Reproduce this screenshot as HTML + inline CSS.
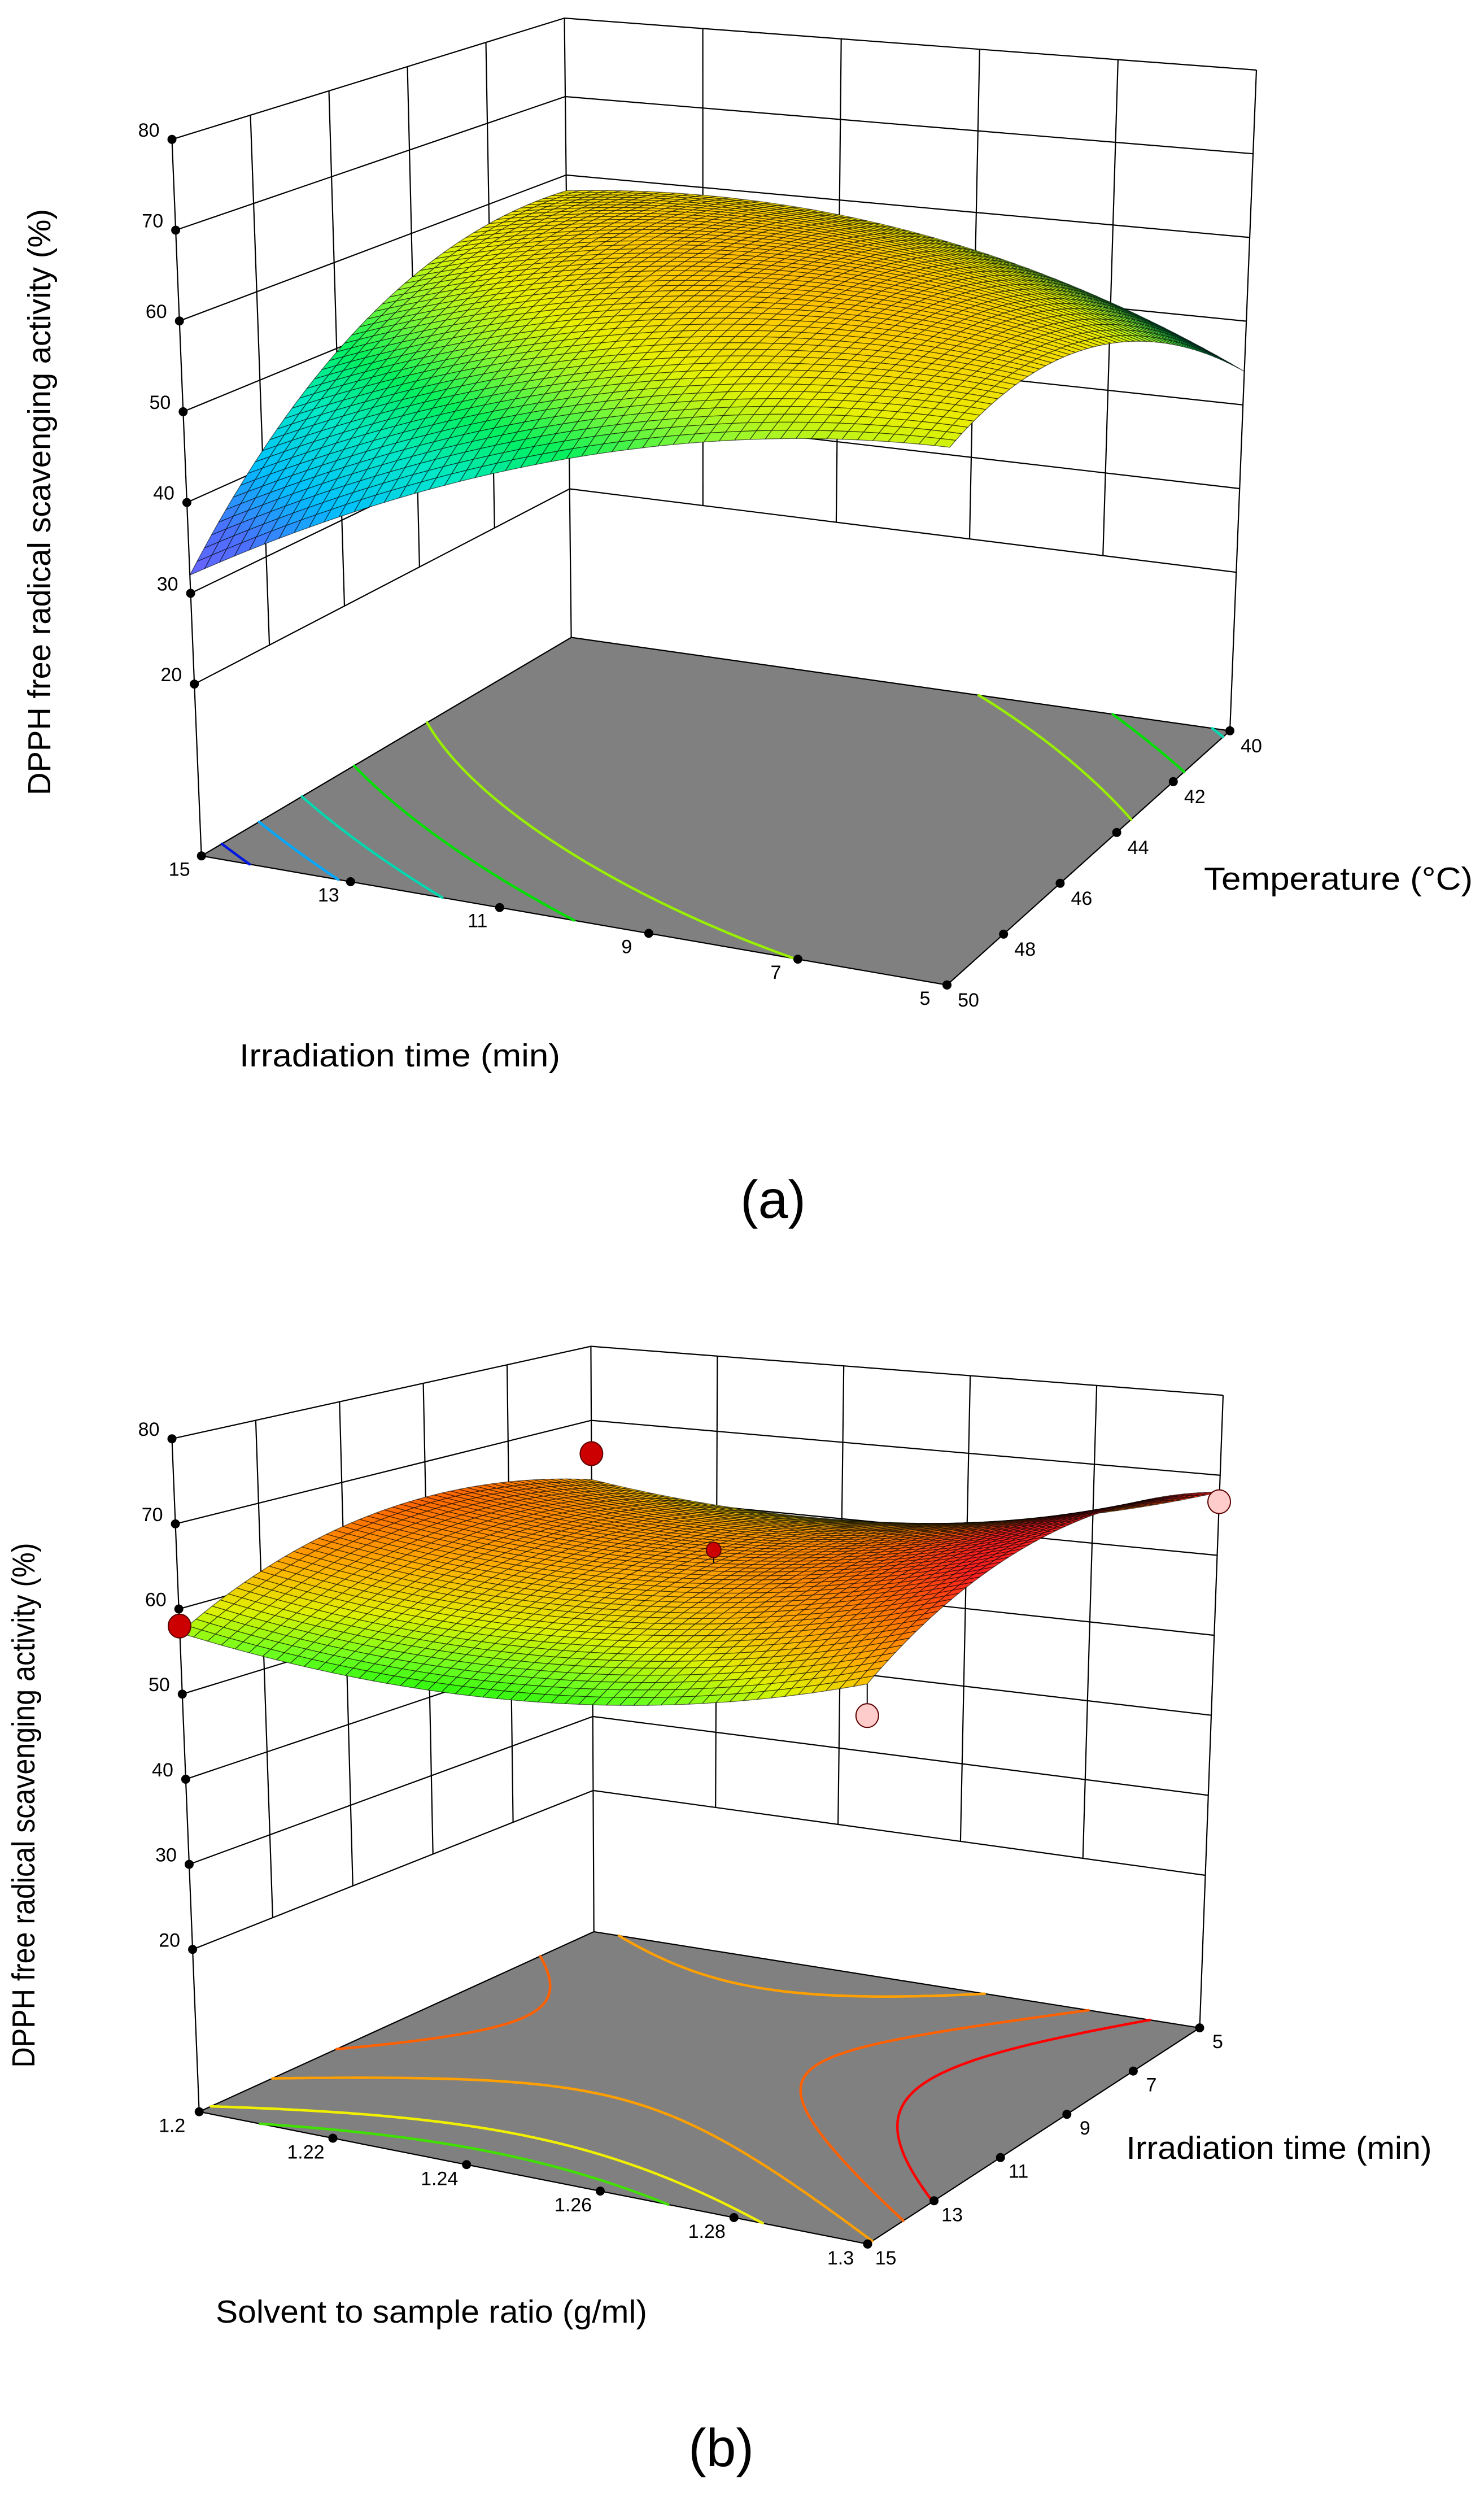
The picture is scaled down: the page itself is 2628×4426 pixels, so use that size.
<!DOCTYPE html>
<html><head><meta charset="utf-8"><title>DPPH response surfaces</title>
<style>html,body{margin:0;padding:0;background:#fff}svg{display:block}text{font-family:"Liberation Sans",sans-serif;fill:#000}</style>
</head><body>
<svg id="chart" xmlns="http://www.w3.org/2000/svg" width="2628" height="4426" viewBox="0 0 2628 4426">
<rect x="0" y="0" width="2628" height="4426" fill="#fff"/>
<g id="plotA"></g>
<g id="plotB"></g>
<text x="70" y="889" font-size="57" text-anchor="middle" dominant-baseline="central" transform="rotate(-90 70 889)" textLength="1038" lengthAdjust="spacingAndGlyphs">DPPH free radical scavenging activity (%)</text>
<text x="708" y="1888" font-size="57" text-anchor="middle" textLength="568" lengthAdjust="spacingAndGlyphs">Irradiation time (min)</text>
<text x="2370" y="1575" font-size="57" text-anchor="middle" textLength="476" lengthAdjust="spacingAndGlyphs">Temperature (°C)</text>
<text x="1369" y="2156" font-size="95" text-anchor="middle">(a)</text>
<text x="42" y="3196" font-size="57" text-anchor="middle" dominant-baseline="central" transform="rotate(-90 42 3196)" textLength="929" lengthAdjust="spacingAndGlyphs">DPPH free radical scavenging activity (%)</text>
<text x="764" y="4112" font-size="57" text-anchor="middle" textLength="764" lengthAdjust="spacingAndGlyphs">Solvent to sample ratio (g/ml)</text>
<text x="2265" y="3822" font-size="57" text-anchor="middle" textLength="541" lengthAdjust="spacingAndGlyphs">Irradiation time (min)</text>
<text x="1277" y="4366" font-size="95" text-anchor="middle">(b)</text>
</svg>
<script>
// ---------- data ----------
var zTicks = [20, 30, 40, 50, 60, 70, 80];
// plot (a): irradiation time (min) x temperature (C)
var aTimeTicks = [15, 13, 11, 9, 7, 5];
var aTempTicks = [40, 42, 44, 46, 48, 50];
// quadratic model coefficients [b0, b1, b2, b11, b22, b12] (coded)
var aCoef = [61, -2.5, -3.5, -6, -7.5, -9.5];
var aContourLevels = [35, 40, 45, 50, 55];
// plot (b): solvent ratio x irradiation time
var bRatioTicks = [1.2, 1.22, 1.24, 1.26, 1.28, 1.3];
var bTimeTicks = [5, 7, 9, 11, 13, 15];
var bCoef = [63, 2.45, -2.9, 4.7, -5.65, -0.5];
var bContourLevels = [56, 58, 61.5, 64, 66];
var bPointRatio = [1.2, 1.2, 1.25, 1.3, 1.3];
var bPointTime = [15, 5, 10, 15, 5];
var bPointValue = [58, 65.5, 64.6, 57.7, 66.7];

// ---------- styling / geometry ----------
var NS = "http://www.w3.org/2000/svg";
var aStops = [[30,'#7a5cff'],[36,'#4a70ff'],[41,'#00c0ff'],[46,'#00e8c8'],[50,'#00f060'],[54,'#90f830'],[57,'#e8f000'],[60.5,'#ffc800'],[63,'#ffa400'],[70,'#ff5000']];
var aContourColors = ['#0018e0','#00a8ff','#00d8b0','#00e000','#98f000'];
var bStops = [[53,'#00f000'],[56,'#70ff20'],[59,'#e0f000'],[62,'#ffb000'],[65,'#ff7000'],[68,'#ff2020']];
var bContourColors = ['#40e000','#f0f000','#ffa000','#ff6000','#ff0000'];

var geoA = {floor:{B:[1011.6,1128.5],R:[2178,1293.8],L:[356.7,1515.3],F:[1677,1743.8]},
            top:{B:[999.5,32.1],R:[2225,124],L:[304.5,246.8],F:[1684,376]}, z0:1.07};
var geoB = {floor:{B:[1051.7,3419.9],R:[2124.5,3590.1],L:[352.7,3738.6],F:[1536.5,3972.8]},
            top:{B:[1046.4,2383.5],R:[2166,2470.2],L:[304.5,2547.2],F:[1535.5,2669.8]}, z0:0.93};

function hex(c){return [parseInt(c.substr(1,2),16),parseInt(c.substr(3,2),16),parseInt(c.substr(5,2),16)];}
function cmap(stops,z){
  if(z<=stops[0][0]) return stops[0][1];
  for(var i=1;i<stops.length;i++){
    if(z<=stops[i][0]){
      var t=(z-stops[i-1][0])/(stops[i][0]-stops[i-1][0]);
      var a=hex(stops[i-1][1]),b=hex(stops[i][1]);
      return 'rgb('+Math.round(a[0]+t*(b[0]-a[0]))+','+Math.round(a[1]+t*(b[1]-a[1]))+','+Math.round(a[2]+t*(b[2]-a[2]))+')';
    }
  }
  return stops[stops.length-1][1];
}
function bil(c,s,q){
  return [c.B[0]*(1-s)*(1-q)+c.R[0]*s*(1-q)+c.L[0]*(1-s)*q+c.F[0]*s*q,
          c.B[1]*(1-s)*(1-q)+c.R[1]*s*(1-q)+c.L[1]*(1-s)*q+c.F[1]*s*q];
}
function proj(g,s,q,w){
  var f=bil(g.floor,s,q),t=bil(g.top,s,q);
  return [f[0]+w*(t[0]-f[0]), f[1]+w*(t[1]-f[1])];
}
function wOf(g,z){return (z-g.z0)/(80-g.z0);}
function model(c,x1,x2){return c[0]+c[1]*x1+c[2]*x2+c[3]*x1*x1+c[4]*x2*x2+c[5]*x1*x2;}
function el(tag,attrs,parent){
  var e=document.createElementNS(NS,tag);
  for(var k in attrs) e.setAttribute(k,attrs[k]);
  parent.appendChild(e); return e;
}
function pts(arr){return arr.map(function(p){return p[0].toFixed(1)+','+p[1].toFixed(1);}).join(' ');}

function drawPlot(root,g,cfg){
  var walls=el('g',{stroke:'#000','stroke-width':2.2,fill:'none'},root);
  
  
  zTicks.forEach(function(z){
    var w=wOf(g,z);
    var pl=el('polyline',{points:pts([proj(g,0,1,w),proj(g,0,0,w),proj(g,1,0,w)])},walls);
    
    
  });
  var w20=wOf(g,zTicks[0]), w80=wOf(g,zTicks[zTicks.length-1]);
  cfg.qTicks.forEach(function(v){
    var q=cfg.qOf(v); if(q<=0.001||q>=0.999) return;
    var ln=el('polyline',{points:pts([proj(g,0,q,w20),proj(g,0,q,w80)])},walls);
    
    
  });
  cfg.sTicks.forEach(function(v){
    var s=cfg.sOf(v); if(s<=0.001||s>=0.999) return;
    var ln=el('polyline',{points:pts([proj(g,s,0,w20),proj(g,s,0,w80)])},walls);
    
    
  });
  [[0,1],[0,0],[1,0]].forEach(function(c){
    var ln=el('polyline',{points:pts([proj(g,c[0],c[1],0),proj(g,c[0],c[1],1)])},walls);
    
    
  });
  var fl=el('polygon',{points:pts([g.floor.B,g.floor.R,g.floor.F,g.floor.L]),fill:'#808080',stroke:'#000','stroke-width':2.2},root);
  
  
  var M=110;
  var cg=el('g',{fill:'none','stroke-width':4.5,'stroke-linecap':'round'},root);
  
  
  cfg.levels.forEach(function(L,li){
    var d='';
    for(var i=0;i<M;i++)for(var j=0;j<M;j++){
      var s0=i/M,s1=(i+1)/M,q0=j/M,q1=(j+1)/M;
      var c=[[s0,q0],[s1,q0],[s1,q1],[s0,q1]];
      var v=c.map(function(p){return cfg.f(p[0],p[1]);});
      var hits=[];
      for(var e=0;e<4;e++){
        var a=v[e],b=v[(e+1)%4];
        if((a<L)!==(b<L)){
          var t=(L-a)/(b-a),pa=c[e],pb=c[(e+1)%4];
          hits.push(proj(g,pa[0]+t*(pb[0]-pa[0]),pa[1]+t*(pb[1]-pa[1]),0));
        }
      }
      for(var h=0;h+1<hits.length;h+=2)
        d+='M'+hits[h][0].toFixed(1)+' '+hits[h][1].toFixed(1)+'L'+hits[h+1][0].toFixed(1)+' '+hits[h+1][1].toFixed(1);
    }
    var p=el('path',{d:d,stroke:cfg.ccolors[li]},cg);
    
    
  });
  var N=50, cells=[];
  for(var i=0;i<N;i++)for(var j=0;j<N;j++){
    var s0=i/N,s1=(i+1)/N,q0=j/N,q1=(j+1)/N;
    var zs=[cfg.f(s0,q0),cfg.f(s1,q0),cfg.f(s1,q1),cfg.f(s0,q1)];
    var poly=[proj(g,s0,q0,wOf(g,zs[0])),proj(g,s1,q0,wOf(g,zs[1])),proj(g,s1,q1,wOf(g,zs[2])),proj(g,s0,q1,wOf(g,zs[3]))];
    cells.push({d:s0+s1+q0+q1,poly:poly,z:(zs[0]+zs[1]+zs[2]+zs[3])/4});
  }
  cells.sort(function(a,b){return a.d-b.d;});
  var sg=el('g',{stroke:'rgba(0,0,0,0.6)','stroke-width':1.3,'stroke-linejoin':'round'},root);
  
  
  cells.forEach(function(c){
    var p=el('polygon',{points:pts(c.poly),fill:cmap(cfg.stops,c.z)},sg);
    
    
  });
  if(cfg.points){
    var pg=el('g',{},root);
    
    
    cfg.points.forEach(function(pt){
      var s=cfg.sOf(pt[0]),q=cfg.qOf(pt[1]);
      var zs=cfg.f(s,q);
      var a=proj(g,s,q,wOf(g,zs)),b=proj(g,s,q,wOf(g,pt[2]));
      var st=el('line',{x1:a[0],y1:a[1],x2:b[0],y2:b[1],stroke:'#000','stroke-width':2},pg);
      
      
      var above=pt[2]>=zs;
      var r=(Math.abs(pt[0]-1.25)<0.01)?13:20;
      var ci=el('ellipse',{cx:b[0],cy:b[1],rx:r,ry:r*1.05,fill:above?'#cc0000':'#ffcccc',stroke:'#5a0000','stroke-width':2},pg);
      
      
    });
  }
  var tg=el('g',{},root);
  
  
  function dot(p){
    var c=el('circle',{cx:p[0],cy:p[1],r:8,fill:'#000'},tg);
    
    
  }
  function lab(x,y,txt,anchor){
    var t=el('text',{x:x,y:y,'font-size':34,'text-anchor':anchor||'middle'},tg);
    t.textContent=txt;
    
    
  }
  zTicks.forEach(function(z){
    var p=proj(g,0,1,wOf(g,z)); dot(p); lab(p[0]-22,p[1]-5,String(z),'end');
  });
  cfg.frontTicks.forEach(function(v){
    var p=proj(g,cfg.sOf(v),1,0); dot(p); lab(p[0]+cfg.frontOff[0],p[1]+cfg.frontOff[1]+12,String(v));
  });
  cfg.rightTicks.forEach(function(v){
    var p=proj(g,1,cfg.qOf(v),0); dot(p); lab(p[0]+cfg.rightOff[0],p[1]+cfg.rightOff[1]+12,String(v));
  });
}

drawPlot(document.getElementById('plotA'),geoA,{
  sOf:function(t){return (15-t)/10;}, qOf:function(T){return (T-40)/10;},
  sTicks:aTimeTicks, qTicks:aTempTicks,
  f:function(s,q){var t=15-10*s,T=40+10*q;return model(aCoef,(t-10)/5,(T-45)/5);},
  levels:aContourLevels, ccolors:aContourColors, stops:aStops,
  frontTicks:aTimeTicks, frontOff:[-39,23], rightTicks:aTempTicks, rightOff:[38,26]
});
var bPts=bPointRatio.map(function(r,i){return [r,bPointTime[i],bPointValue[i]];});
drawPlot(document.getElementById('plotB'),geoB,{
  sOf:function(r){return (r-1.2)/0.1;}, qOf:function(t){return (t-5)/10;},
  sTicks:bRatioTicks, qTicks:bTimeTicks,
  f:function(s,q){var r=1.2+0.1*s,t=5+10*q;return model(bCoef,(r-1.25)/0.05,(t-10)/5);},
  levels:bContourLevels, ccolors:bContourColors, stops:bStops, points:bPts,
  frontTicks:bRatioTicks, frontOff:[-48,24], rightTicks:bTimeTicks, rightOff:[32,24]
});
</script>
</body></html>
